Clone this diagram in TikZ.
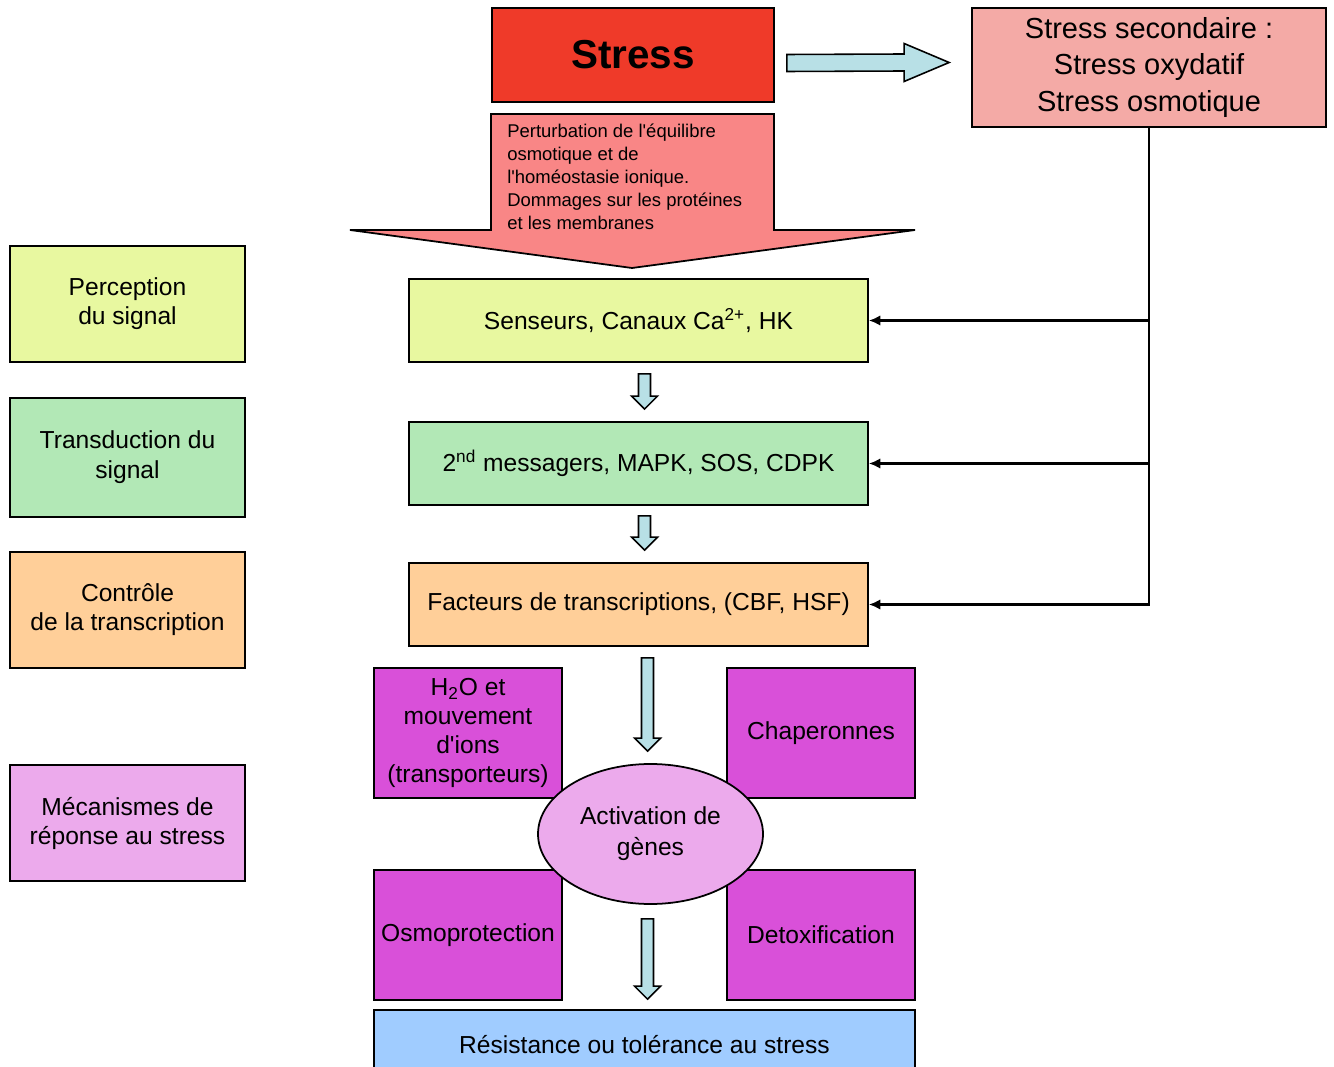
\documentclass[tikz,border=0pt]{standalone}
\usepackage{fontspec}
\setmainfont{Liberation Sans}
\usetikzlibrary{calc,shapes.geometric,arrows.meta}
\definecolor{rouge}{RGB}{239,58,41}
\definecolor{saumon}{RGB}{244,170,166}
\definecolor{rose}{RGB}{249,134,134}
\definecolor{jaune}{RGB}{232,248,160}
\definecolor{vert}{RGB}{178,232,182}
\definecolor{orange}{RGB}{255,207,153}
\definecolor{magenta}{RGB}{217,80,217}
\definecolor{mauve}{RGB}{236,170,236}
\definecolor{bleu}{RGB}{160,204,255}
\definecolor{bleuciel}{RGB}{184,224,230}
% fleches pleines
\newcommand{\flechebas}[2]{%
  \draw[fleche] ($(#1)+(-6,0)$) -- ($(#1)+(6,0)$) -- ($(#2)+(6,-13)$) -- ($(#2)+(13,-13)$)
    -- (#2) -- ($(#2)+(-13,-13)$) -- ($(#2)+(-6,-13)$) -- cycle;}
\newcommand{\flechedroite}[2]{%
  \draw[fleche] ($(#1)+(0,-8.5)$) -- ($(#2)+(-45,-8.5)$) -- ($(#2)+(-45,-19)$) -- (#2)
    -- ($(#2)+(-45,19)$) -- ($(#2)+(-45,8.5)$) -- ($(#1)+(0,8.5)$) -- cycle;}
\begin{document}
\begin{tikzpicture}[x=0.2mm,y=-0.2mm,
    boite/.style={draw,line width=1pt,align=center,inner sep=0pt,
      font=\fontsize{14}{16.5}\selectfont},
    taille/.style 2 args={minimum width=#1*0.2mm,minimum height=#2*0.2mm},
    fleche/.style={draw,line width=0.9pt,fill=bleuciel,line join=miter},
    lien/.style={line width=1.4pt,-{Latex[length=6.5pt,width=6pt]}}]
    \clip (0,0) rectangle (1334,1067);
    % Stress
    \node[boite,taille={282}{94},fill=rouge,font=\fontsize{23}{26}\selectfont\bfseries]
        (stress) at (633,55) {Stress};
    \node[boite,taille={354}{119},fill=saumon,font=\fontsize{16.5}{20.5}\selectfont]
        (sec) at (1149,67.5) {Stress secondaire :\\Stress oxydatif\\Stress osmotique};
    \coordinate (d1) at ($(stress.east)+(12,8)$);
    \coordinate (d2) at ($(sec.west)+(-22,-5)$);
    \flechedroite{d1}{d2}
    % Grande fleche
    \draw[line width=1pt,fill=rose,line join=miter] (491,114) -- (774,114) -- (774,230)
        -- (915,230) -- (632,268) -- (350,230) -- (491,230) -- cycle;
    \node[anchor=north west,align=left,inner sep=0pt,font=\fontsize{10.5}{13}\selectfont]
        (perturb) at (507,124) {Perturbation de l\textquotesingle équilibre\\osmotique et de\\l\textquotesingle homéostasie ionique.\\Dommages sur les protéines\\et les membranes};
    % Etapes
    \node[boite,taille={459}{83},fill=jaune] (sens) at (638.5,320.5) {Senseurs, Canaux Ca\textsuperscript{2+}, HK};
    \node[boite,taille={459}{83},fill=vert] (mess) at (638.5,463.5) {2\textsuperscript{nd} messagers, MAPK, SOS, CDPK};
    \node[boite,taille={459}{83},fill=orange] (fact) at (638.5,604.5) {Facteurs de transcriptions, (CBF, HSF)};
    % Legende a gauche
    \node[boite,taille={235}{116},fill=jaune] (per) at (127.5,304) {Perception\\du signal};
    \node[boite,taille={235}{119},fill=vert,font=\fontsize{14}{17}\selectfont] (tra) at (127.5,457.5) {Transduction du\\signal};
    \node[boite,taille={235}{116},fill=orange] (con) at (127.5,610) {Contrôle\\de la transcription};
    \node[boite,taille={235}{116},fill=mauve] (mec) at (127.5,823) {Mécanismes de\\réponse au stress};
    % Reponses
    \node[boite,taille={188}{130},fill=magenta] (h2o) at (468,733) {H\textsubscript{2}O et\\mouvement\\d\textquotesingle ions\\(transporteurs)};
    \node[boite,taille={188}{130},fill=magenta] (chap) at (821,733) {Chaperonnes};
    \node[boite,taille={188}{130},fill=magenta] (osmo) at (468,935) {Osmoprotection};
    \node[boite,taille={188}{130},fill=magenta] (detox) at (821,935) {Detoxification};
    \node[boite,ellipse,taille={225}{140},fill=mauve,font=\fontsize{14}{17.5}\selectfont]
        (gen) at (650.5,834) {Activation de\\gènes};
    \node[boite,taille={541}{70},fill=bleu] (res) at (644.5,1045) {Résistance ou tolérance au stress};
    % Fleches
    \coordinate (f1a) at ($(sens.south)+(6,11)$);
    \coordinate (f1b) at ($(mess.north)+(6,-12)$);
    \coordinate (f2a) at ($(mess.south)+(6,10)$);
    \coordinate (f2b) at ($(fact.north)+(6,-12)$);
    \coordinate (f3a) at ($(fact.south)+(9,11)$);
    \coordinate (f3b) at ($(gen.north)+(-3,-12)$);
    \coordinate (f4a) at ($(gen.south)+(-3,14)$);
    \coordinate (f4b) at ($(res.north)+(3,-10)$);
    \flechebas{f1a}{f1b}
    \flechebas{f2a}{f2b}
    \flechebas{f3a}{f3b}
    \flechebas{f4a}{f4b}
    % Stress secondaire vers les etapes
    \draw[lien] (sec.south) |- (sens.east);
    \draw[lien] (sec.south) |- (mess.east);
    \draw[lien] (sec.south) |- (fact.east);
\end{tikzpicture}
\end{document}
